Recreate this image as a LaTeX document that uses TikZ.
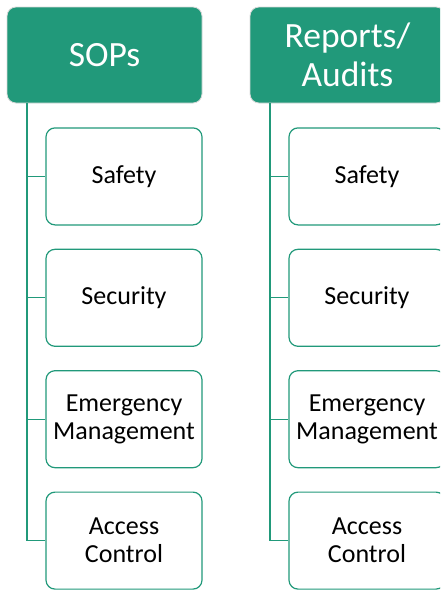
\documentclass[tikz,border=0pt]{standalone}
\usepackage{fontspec}
\setmainfont{Carlito}
\usepackage{tikz}
\usetikzlibrary{positioning}
\definecolor{sopgreen}{HTML}{21997A}
\tikzset{
  head/.style={draw=gray!30, fill=sopgreen, rounded corners=9pt, line width=0.8pt,
    minimum width=195pt, minimum height=96pt, align=center, text=white,
    font=\fontsize{35.5}{39}\selectfont},
  item/.style={draw=sopgreen, fill=white, rounded corners=9pt, line width=1.2pt,
    minimum width=156pt, minimum height=97pt, align=center,
    font=\fontsize{26}{28}\selectfont},
  link/.style={draw=sopgreen, line width=1.2pt}
}

\begin{document}
\begin{tikzpicture}[x=1pt, y=-1pt]
    \useasboundingbox (0,0) rectangle (440,590);
    \clip (0,0) rectangle (440,590);

    \node[head] (sops) at (104.5,55) {SOPs};
    \node[head] (reports) at (347.5,55) {Reports/\\Audits};

    \coordinate (sopsTrunk) at ([xshift=-77.5pt]sops.south);
    \coordinate (reportsTrunk) at ([xshift=-77.5pt]reports.south);

    % one column of topics under each heading
    \foreach \col/\x in {sops/124, reports/367} {
        \foreach \name/\txt [count=\i] in {safety/Safety, security/Security,
                emergency/{Emergency\\Management}, access/{Access\\Control}} {
            \node[item] (\col-\name) at (\x, 55+121.4*\i) {\txt};
            \draw[link] (\col Trunk) |- (\col-\name.west);
        }
    }
\end{tikzpicture}
\end{document}
